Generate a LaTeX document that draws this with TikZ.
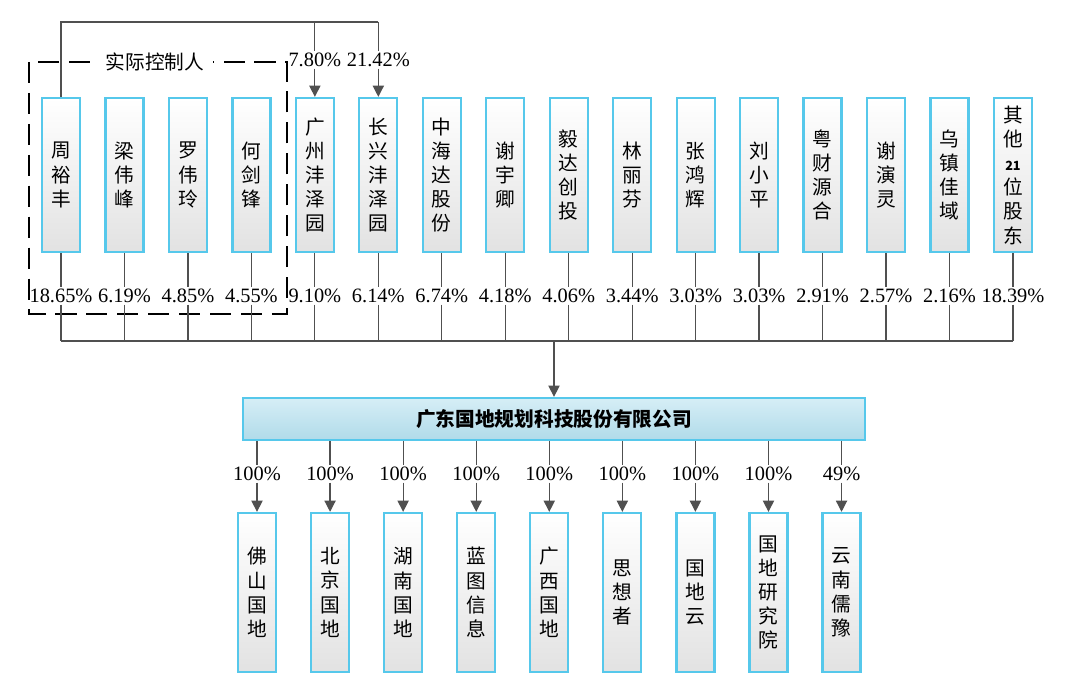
\documentclass[tikz,border=0pt]{standalone}
\usepackage{fontspec}
\setmainfont{Liberation Serif}
\newfontfamily\cjk{Noto Sans CJK SC}
\usepackage{tikz}
\usetikzlibrary{arrows.meta, positioning}
\definecolor{boxcyan}{RGB}{86, 200, 235}
\definecolor{boxgray}{RGB}{226, 226, 226}
\definecolor{cotop}{RGB}{214, 238, 246}
\definecolor{cobottom}{RGB}{176, 219, 233}
\definecolor{linkgray}{RGB}{80, 80, 80}

\begin{document}
\begin{tikzpicture}[x=0.025cm, y=-0.025cm, node distance=0.58cm,
    holder/.style={draw=boxcyan, line width=1.6pt, top color=white, bottom color=boxgray, minimum width=0.95cm, minimum height=3.85cm, inner sep=0pt, align=center, font=\cjk\fontsize{14}{17.2}\selectfont},
    sub/.style={holder, minimum height=3.975cm},
    pct/.style={inner sep=1pt, font=\fontsize{14.5}{16}\selectfont},
    link/.style={linkgray, line width=0.9pt},
    arr/.style={link, -{Triangle[length=8pt, width=8pt]}}]
        \useasboundingbox (0,0) rectangle (1080,695);

        % actual controllers
        \draw[line width=1pt, dash pattern=on 15pt off 7pt] (29,62) rectangle (287,314);
        \node[fill=white, inner xsep=6pt, font=\cjk\fontsize{14}{16}\selectfont] (ctl) at (155,62) {实际控制人};

        % shareholders
        \node[holder] (s1) at (61,175) {周\\裕\\丰};
        \node[holder, right=of s1] (s2) {梁\\伟\\峰};
        \node[holder, right=of s2] (s3) {罗\\伟\\玲};
        \node[holder, right=of s3] (s4) {何\\剑\\锋};
        \node[holder, right=of s4] (s5) {广\\州\\沣\\泽\\园};
        \node[holder, right=of s5] (s6) {长\\兴\\沣\\泽\\园};
        \node[holder, right=of s6] (s7) {中\\海\\达\\股\\份};
        \node[holder, right=of s7] (s8) {谢\\宇\\卿};
        \node[holder, right=of s8] (s9) {毅\\达\\创\\投};
        \node[holder, right=of s9] (s10) {林\\丽\\芬};
        \node[holder, right=of s10] (s11) {张\\鸿\\辉};
        \node[holder, right=of s11] (s12) {刘\\小\\平};
        \node[holder, right=of s12] (s13) {粤\\财\\源\\合};
        \node[holder, right=of s13] (s14) {谢\\演\\灵};
        \node[holder, right=of s14] (s15) {乌\\镇\\佳\\域};
        \node[holder, right=of s15] (s16) {其\\他\\{\fontsize{9}{10}\selectfont\bfseries 21}\\位\\股\\东};

        % control of the two partnerships
        \coordinate (top) at (0,22);
        \draw[link] (s1.north) |- (s6 |- top);
        \node[pct] (k5) at (s5 |- 0,60) {7.80\%};
        \node[pct] (k6) at (s6 |- 0,60) {21.42\%};
        \draw[link] (s5 |- top) -- (k5);
        \draw[link] (s6 |- top) -- (k6);
        \draw[arr] (k5) -- (s5);
        \draw[arr] (k6) -- (s6);

        \foreach \i/\v in {1/18.65, 2/6.19, 3/4.85, 4/4.55, 5/9.10, 6/6.14, 7/6.74, 8/4.18, 9/4.06, 10/3.44, 11/3.03, 12/3.03, 13/2.91, 14/2.57, 15/2.16, 16/18.39} {
            \node[pct] (p\i) at (s\i |- 0,296) {\v\%};
            \draw[link] (s\i) -- (p\i);
            \draw[link] (p\i) -- (p\i |- 0,341);
        }
        \draw[link] (p1 |- 0,341) -- (p16 |- 0,341);

        % company
        \node[draw=boxcyan, line width=1.6pt, top color=cotop, bottom color=cobottom, minimum width=15.55cm, minimum height=1.05cm, font=\cjk\bfseries\fontsize{14}{16}\selectfont] (co) at (554,419) {广东国地规划科技股份有限公司};
        \draw[arr] (co |- 0,341) -- (co);

        % subsidiaries
        \node[sub] (c1) at (257,592.5) {佛\\山\\国\\地};
        \node[sub, right=0.82cm of c1] (c2) {北\\京\\国\\地};
        \node[sub, right=0.82cm of c2] (c3) {湖\\南\\国\\地};
        \node[sub, right=0.82cm of c3] (c4) {蓝\\图\\信\\息};
        \node[sub, right=0.82cm of c4] (c5) {广\\西\\国\\地};
        \node[sub, right=0.82cm of c5] (c6) {思\\想\\者};
        \node[sub, right=0.82cm of c6] (c7) {国\\地\\云};
        \node[sub, right=0.82cm of c7] (c8) {国\\地\\研\\究\\院};
        \node[sub, right=0.82cm of c8] (c9) {云\\南\\儒\\豫};

        \foreach \i/\v in {1/100, 2/100, 3/100, 4/100, 5/100, 6/100, 7/100, 8/100, 9/49} {
            \node[pct] (q\i) at (c\i |- 0,474) {\v\%};
            \draw[link] (q\i |- co.south) -- (q\i);
            \draw[arr] (q\i) -- (c\i);
        }
\end{tikzpicture}
\end{document}
